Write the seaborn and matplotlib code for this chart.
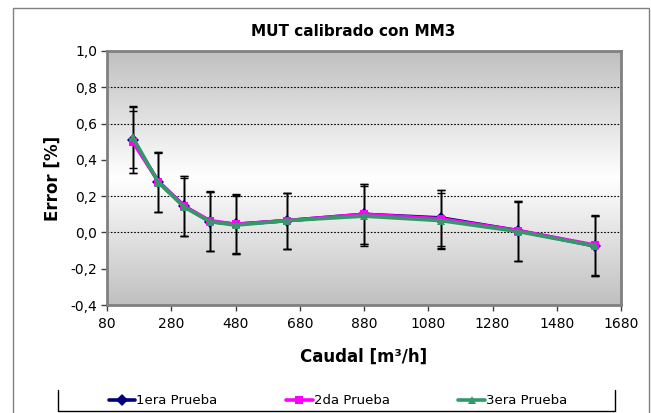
import numpy as np
import pandas as pd
import matplotlib
matplotlib.use('Agg')
import matplotlib.pyplot as plt
from matplotlib.colors import LinearSegmentedColormap
from matplotlib.lines import Line2D
from matplotlib.patches import Rectangle
from matplotlib.ticker import FuncFormatter, MultipleLocator
import seaborn as sns

# ---- data ----
caudal = [160, 240, 320, 400, 480, 640, 880, 1120, 1360, 1600]
prueba1 = [0.51, 0.28, 0.145, 0.06, 0.045, 0.065, 0.10, 0.08, 0.01, -0.075]
prueba2 = [0.50, 0.28, 0.145, 0.065, 0.045, 0.065, 0.10, 0.075, 0.01, -0.07]
prueba3 = [0.525, 0.275, 0.14, 0.06, 0.04, 0.065, 0.09, 0.065, 0.005, -0.075]
err1 = [0.18, 0.165, 0.165, 0.165, 0.165, 0.155, 0.165, 0.155, 0.165, 0.165]
err2 = [0.17, 0.165, 0.165, 0.165, 0.16, 0.155, 0.165, 0.16, 0.165, 0.165]
err3 = [0.17, 0.165, 0.16, 0.165, 0.16, 0.155, 0.165, 0.155, 0.165, 0.165]
series_names = ["1era Prueba", "2da Prueba", "3era Prueba"]
x_ticks = [80, 280, 480, 680, 880, 1080, 1280, 1480, 1680]
grid_levels = [0.8, 0.6, 0.2, 0.0]

colors = ["#000080", "#FF00FF", "#339966"]
markers = ["D", "s", "^"]

df = pd.DataFrame({
    "Caudal": caudal * 3,
    "Error": prueba1 + prueba2 + prueba3,
    "err": err1 + err2 + err3,
    "Prueba": [n for n in series_names for _ in caudal],
})

sns.set_style("white")
plt.rcParams['font.family'] = ['DejaVu Sans']
plt.rcParams['text.color'] = 'black'
plt.rcParams['axes.labelcolor'] = 'black'

fig = plt.figure(figsize=(6.51, 4.13), dpi=100)
ax = fig.add_axes([107 / 651, 1 - 305 / 413, (621 - 107) / 651, (305 - 51) / 413])

# gradient background (white band around 0.3, gray at top/bottom)
yy = np.linspace(1.0, -0.4, 200)
grad = np.abs(yy - 0.3)[:, None] / 0.7
cmap = LinearSegmentedColormap.from_list("bg", ["#ffffff", "#c0c0c0"])
ax.imshow(grad, extent=[80, 1680, -0.4, 1.0], aspect='auto', cmap=cmap,
          vmin=0, vmax=1, zorder=0, interpolation='bilinear')

for lv in grid_levels:
    ax.axhline(lv, color='black', lw=0.8, ls=(0, (1.5, 1.5)), zorder=1)

# error bars per series
for i, name in enumerate(series_names):
    sub = df[df["Prueba"] == name]
    ax.errorbar(sub["Caudal"], sub["Error"], yerr=sub["err"], fmt='none',
                ecolor='black', elinewidth=1.0, capsize=3, capthick=1.0, zorder=2)

sns.lineplot(data=df, x="Caudal", y="Error", hue="Prueba", style="Prueba",
             palette=colors, markers=markers, dashes=False, linewidth=2.6,
             markersize=6, markeredgewidth=0, ax=ax, zorder=3, sort=False)

handles, labels = ax.get_legend_handles_labels()
ax.get_legend().remove()

ax.set_xlim(80, 1680)
ax.set_ylim(-0.4, 1.0)
ax.set_xticks(x_ticks)
ax.yaxis.set_major_locator(MultipleLocator(0.2))
ax.yaxis.set_major_formatter(FuncFormatter(
    lambda v, p: ("%.1f" % (0.0 if abs(v) < 1e-9 else v)).replace('.', ',')))
ax.tick_params(axis='both', labelsize=10, direction='out', length=4,
               width=1, colors='#404040', labelcolor='black', pad=3)
ax.tick_params(axis='x', pad=5)
ax.xaxis.set_ticks_position('bottom')
ax.yaxis.set_ticks_position('left')
for s in ax.spines.values():
    s.set_color('#808080')
    s.set_linewidth(2)
    s.set_visible(True)

ax.set_xlabel("Caudal [m³/h]", fontsize=12, fontweight='bold', labelpad=12)
ax.set_ylabel("Error [%]", fontsize=12, fontweight='bold', labelpad=6)
fig.text(353 / 651, 1 - 32 / 413, "MUT calibrado con MM3", ha='center', va='center',
         fontsize=11, fontweight='bold')

leg = fig.legend(handles, labels, loc='center', ncol=3,
                 bbox_to_anchor=(338 / 651, 1 - 401 / 413),
                 frameon=False, fontsize=9.5, handlelength=2.0,
                 handletextpad=0.1, columnspacing=5.2)

# legend box (sides and bottom) and outer chart frame
lx0, lx1 = 58 / 651, 615 / 651
ly0, ly1 = 1 - 411 / 413, 1 - 390 / 413
fig.lines.append(Line2D([lx0, lx0, lx1, lx1], [ly1, ly0, ly0, ly1],
                        transform=fig.transFigure, color='black', lw=1))
fig.patches.append(Rectangle((13 / 651, -0.1), (649 - 13) / 651, 1 - 8 / 413 + 0.1,
                             transform=fig.transFigure, fill=False,
                             edgecolor='#808080', lw=1))

fig.savefig("out.png", dpi=100)
